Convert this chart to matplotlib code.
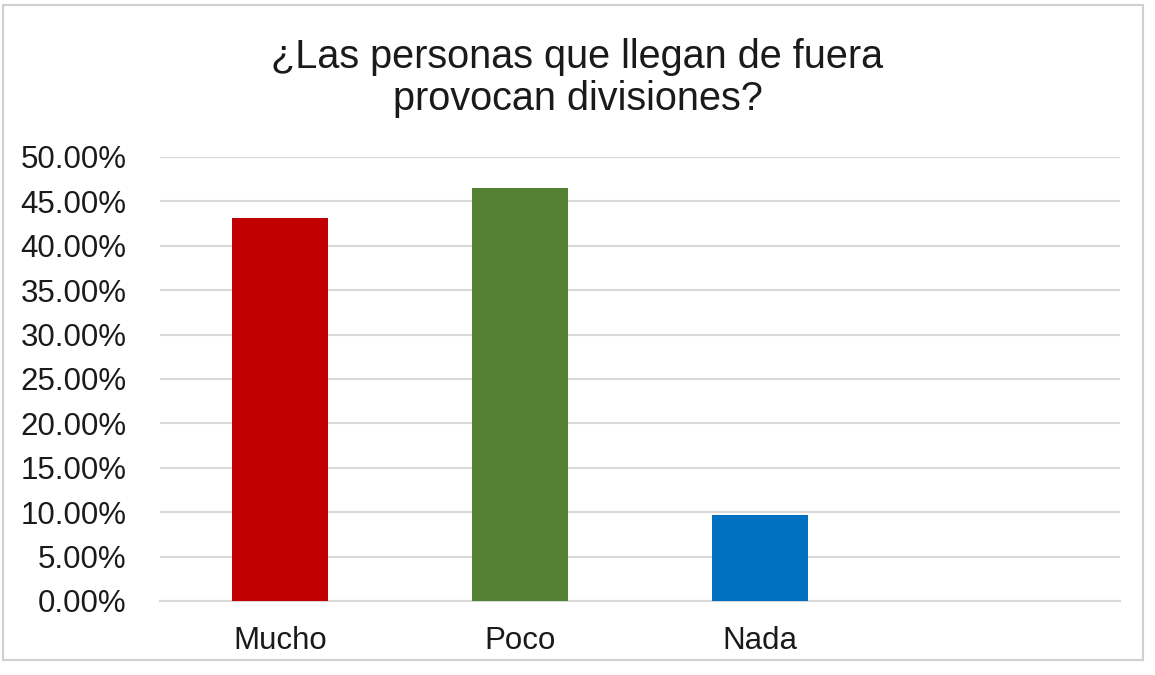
import matplotlib
matplotlib.use('Agg')
import matplotlib.pyplot as plt
from matplotlib.patches import Rectangle
from matplotlib.ticker import FuncFormatter, MultipleLocator

categories = ['Mucho', 'Poco', 'Nada', '']
values = [43.1, 46.5, 9.7, 0]
bar_colors = ['#C00000', '#548235', '#0070C0', 'none']
title = '¿Las personas que llegan de fuera\nprovocan divisiones?'

plt.rcParams['font.family'] = ['Liberation Sans', 'DejaVu Sans']

fig = plt.figure(figsize=(11.55, 6.75), dpi=100)
ax = fig.add_axes([160 / 1155, 1 - 601 / 675, 960 / 1155, 444 / 675])

positions = range(len(categories))
ax.bar(positions, values, width=0.4, color=bar_colors, zorder=3)

ax.set_xlim(-0.5, len(categories) - 0.5)
ax.set_ylim(0, 50)
ax.yaxis.set_major_locator(MultipleLocator(5))
ax.yaxis.set_major_formatter(FuncFormatter(lambda v, _: f'{v:.2f}%'))
ax.set_xticks(list(positions))
ax.set_xticklabels(categories)
ax.grid(axis='y', color='#D9D9D9', linewidth=1.5, zorder=0)
ax.tick_params(axis='y', length=0, pad=24, labelsize=22.5, labelcolor='#1a1a1a')
ax.tick_params(axis='x', length=0, pad=18, labelsize=22.5, labelcolor='#1a1a1a')
for side in ('top', 'right', 'left'):
    ax.spines[side].set_visible(False)
ax.spines['bottom'].set_color('#D9D9D9')
ax.spines['bottom'].set_linewidth(1.5)

fig.text(0.5, 1 - 78 / 675, title, ha='center', va='center', fontsize=28.5,
         color='#1a1a1a', linespacing=1.1)

fig.patches.append(Rectangle((3 / 1155, 1 - 660 / 675), 1140 / 1155, 655 / 675,
                             transform=fig.transFigure, fill=False,
                             edgecolor='#D0D0D0', linewidth=1.5))

fig.savefig('out.png', dpi=100)
